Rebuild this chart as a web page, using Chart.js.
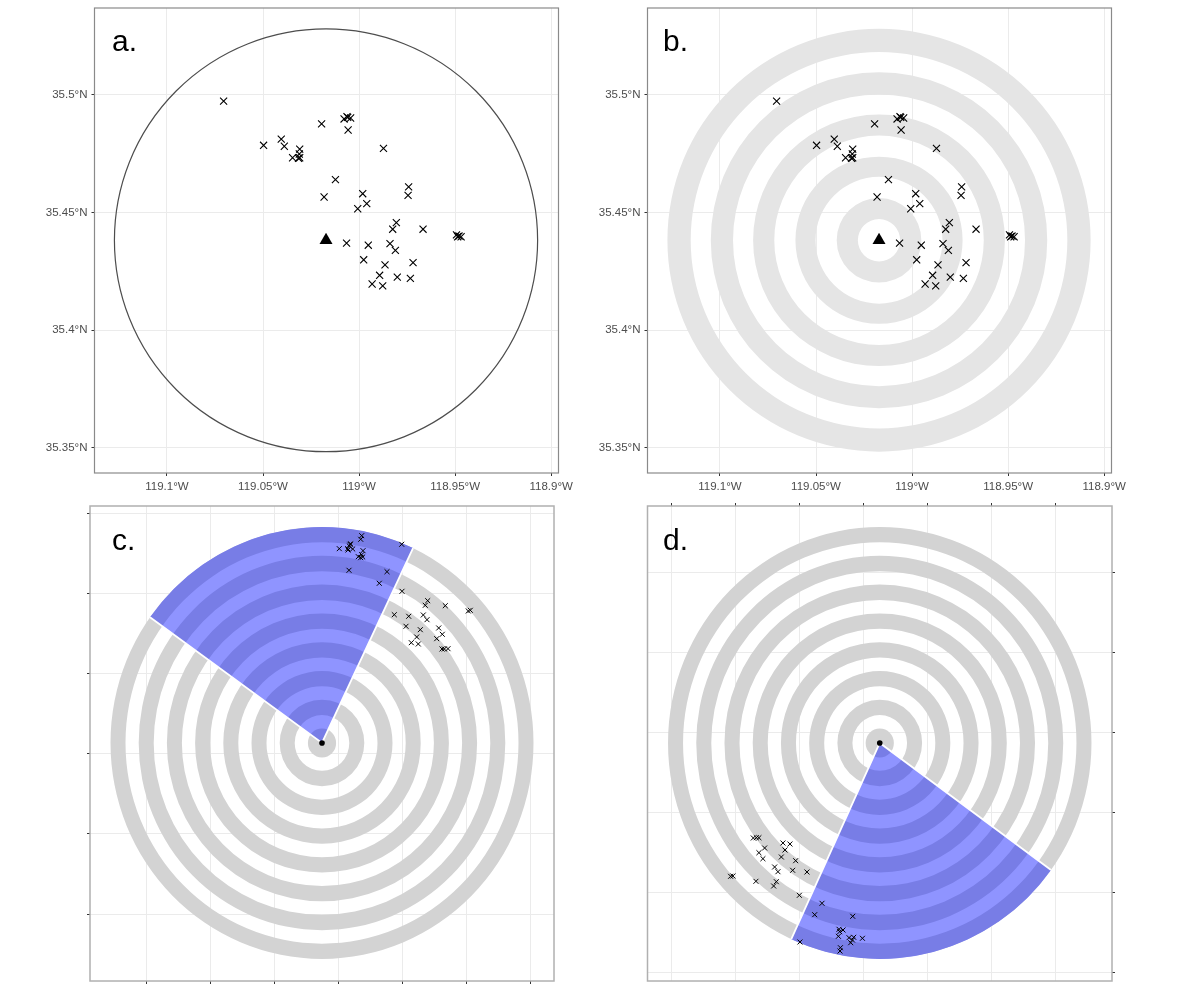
<!DOCTYPE html>
<html lang="en">

<head>
  <meta charset="UTF-8">
  <title>Site map panels</title>
  <script src="https://cdn.jsdelivr.net/npm/chart.js"></script>
  <style>
    body { margin: 0; background: #fff; overflow: hidden; }
    canvas { position: absolute; }
  </style>
</head>

<body>

  <canvas id="panelA" width="600" height="510" style="left:0;top:-10px"></canvas>
  <canvas id="panelB" width="600" height="510" style="left:553px;top:-10px"></canvas>
  <canvas id="panelC" width="600" height="510" style="left:0;top:490px"></canvas>
  <canvas id="panelD" width="600" height="510" style="left:553px;top:490px"></canvas>

  <script>
    // Panels a and b: stations in degrees
    const stationLon = [-119.0705, -119.0497, -119.0405, -119.0389, -119.0309, -119.0346, -119.0311, -119.0315, -119.0309,
      -119.0195, -119.0078, -119.0063, -119.0059, -119.0044, -119.0057, -118.9873, -119.0123, -119.0182, -118.9981,
      -118.9960, -119.0007, -118.9742, -118.9745, -118.9806, -118.9825, -118.9667, -118.9493, -118.9487, -118.9469,
      -118.9480, -119.0065, -118.9952, -118.9839, -118.9811, -118.9976, -118.9865, -118.9719, -118.9893, -118.9801,
      -118.9733, -118.9932, -118.9877];
    const stationLat = [35.4974, 35.4786, 35.4812, 35.4782, 35.4770, 35.4733, 35.4749, 35.4731, 35.4733,
      35.4877, 35.4898, 35.4908, 35.4905, 35.4902, 35.4851, 35.4773, 35.4640, 35.4566, 35.4580,
      35.4538, 35.4516, 35.4609, 35.4573, 35.4457, 35.4429, 35.4429, 35.4405, 35.4397, 35.4397,
      35.4400, 35.4370, 35.4361, 35.4368, 35.4339, 35.4299, 35.4277, 35.4287, 35.4233, 35.4225,
      35.4220, 35.4196, 35.4188];
    const siteLon = [-119.0172];
    const siteLat = [35.4382];

    const lonTicks = [-119.1, -119.05, -119, -118.95, -118.9];
    const lonLabels = ['119.1°W', '119.05°W', '119°W', '118.95°W', '118.9°W'];
    const latTicks = [35.5, 35.45, 35.4, 35.35];
    const latLabels = ['35.5°N', '35.45°N', '35.4°N', '35.35°N'];

    // ring edges in km, inner and outer
    const mapRingInner = [1, 3, 4.95, 6.9, 8.9];
    const mapRingOuter = [2, 3.95, 5.95, 7.95, 10];
    const boundaryKm = [10];

    // Panels c and d: stations in the unlabelled plot units, relative to the site
    const cEast = [39.7, 38.7, 17.3, 28, 28.7, 27.3, 25.7, 26, 30.7, 41, 36.3, 39.7, 40.7, 38.7, 79.7, 27, 65, 57.3, 80,
      105.7, 103.3, 123.3, 146.3, 148.3, 72.3, 86.7, 101.3, 105, 84, 98.3, 116.7, 120.3, 114.7, 94.7, 89.3, 96.3, 120, 122.3, 126];
    const cNorth = [207.3, 203.7, 194.3, 198.7, 199, 197, 194.3, 193, 194, 192.3, 186.3, 188.3, 186, 185.3, 198.7, 172.7, 171.3, 159.7, 151.7,
      142.3, 137.7, 137.3, 132, 132.7, 128.3, 126.7, 128, 123.3, 116.7, 113.3, 115, 108.7, 104.3, 106, 100.3, 99, 94, 94, 94.3];

    const dEast = [-126.3, -123.3, -120.7, -96.7, -89.7, -115, -94.7, -120.7, -98.3, -116.7, -84, -105, -101.7, -87, -72.7, -149, -146.7,
      -123.7, -103.3, -106, -80.3, -57.7, -65, -27, -40.7, -40, -36.7, -41.3, -30.7, -26, -17.3, -27.3, -29, -39.3, -39.7, -79.7];
    const dNorth = [-95, -94.7, -94.7, -100, -101, -105, -107, -109.7, -114, -115.7, -117.7, -124, -128.7, -127.3, -129, -133.3, -133,
      -138.3, -138.7, -143, -152.3, -160.3, -171.7, -173.3, -186.3, -188.7, -187, -193.3, -194.7, -194.3, -195.3, -197, -199.7, -204.7, -208, -199];

    const cXTicks = [-176, -112, -48, 16, 80.4, 144.6, 208.7];
    const cYTicks = [229, 149, 69, -11, -91, -171];
    const dXTicks = [-208.3, -144.3, -80.5, -16.5, 47.7, 111.7, 176];
    const dYTicks = [170.3, 90.3, 10.3, -69.7, -149.7, -229.7];

    const sectorRingInner = [196.5, 168.3, 140.1, 111.9, 83.7, 55.5, 27.3, 0];
    const sectorRingOuter = [211.5, 183.3, 155.1, 126.9, 98.7, 70.5, 42.3, 14.1];
    const cSector = [-54.4, 25.5];
    const dSector = [126, 204.7];

    const kmLon = 1 / 90.8, kmLat = 1 / 111.2;  // degrees per km
    const FONT = '"Liberation Sans", Arial, sans-serif';

    function ellipsePath(ctx, chart, cx, cy, r, ux, uy) {
      const px = chart.scales.x.getPixelForValue(cx), py = chart.scales.y.getPixelForValue(cy);
      const rx = Math.abs(chart.scales.x.getPixelForValue(cx + r * ux) - px);
      const ry = Math.abs(chart.scales.y.getPixelForValue(cy + r * uy) - py);
      ctx.moveTo(px + rx, py);
      ctx.ellipse(px, py, rx, ry, 0, 0, Math.PI * 2);
    }

    function fillRings(ctx, chart, g, color) {
      ctx.fillStyle = color;
      g.inner.forEach((inner, i) => {
        ctx.beginPath();
        ellipsePath(ctx, chart, g.cx, g.cy, g.outer[i], g.ux, g.uy);
        if (inner > 0) ellipsePath(ctx, chart, g.cx, g.cy, inner, g.ux, g.uy);
        ctx.fill('evenodd');
      });
    }

    // blue wedge over the rings, bearings clockwise from north
    function drawSector(ctx, chart, g, bearings) {
      const px = chart.scales.x.getPixelForValue(g.cx), py = chart.scales.y.getPixelForValue(g.cy);
      const r = Math.max(...g.outer);
      const rx = Math.abs(chart.scales.x.getPixelForValue(g.cx + r * g.ux) - px);
      const ry = Math.abs(chart.scales.y.getPixelForValue(g.cy + r * g.uy) - py);
      const a0 = (bearings[0] - 90) * Math.PI / 180, a1 = (bearings[1] - 90) * Math.PI / 180;

      ctx.save();
      ctx.beginPath();
      ctx.moveTo(px, py);
      ctx.ellipse(px, py, rx, ry, 0, a0, a1);
      ctx.closePath();
      ctx.clip();
      ctx.fillStyle = '#8f94ff';
      ctx.fillRect(chart.chartArea.left, chart.chartArea.top, chart.chartArea.width, chart.chartArea.height);
      fillRings(ctx, chart, g, '#787de6');
      ctx.restore();

      ctx.strokeStyle = '#fff';
      ctx.lineWidth = 1.8;
      ctx.beginPath();
      ctx.moveTo(px + rx * Math.cos(a0), py + ry * Math.sin(a0));
      ctx.lineTo(px, py);
      ctx.lineTo(px + rx * Math.cos(a1), py + ry * Math.sin(a1));
      ctx.stroke();
    }

    function makePanel(id, p) {
      const tickFor = (values, labels) => ({
        autoSkip: false,
        maxRotation: 0,
        padding: 4,
        color: '#4d4d4d',
        font: { family: FONT, size: 11.5 },
        callback: (v, i) => labels ? labels[i] : ''
      });
      const gridStyle = { color: '#ebebeb', lineWidth: 1, tickColor: '#333', tickLength: 3, tickWidth: 1 };

      new Chart(document.getElementById(id), {
        type: 'scatter',
        data: {
          datasets: [
            {
              data: p.xs.map((x, i) => ({ x: x, y: p.ys[i] })),
              pointStyle: 'crossRot',
              pointRadius: p.crossSize,
              borderColor: '#000',
              pointBorderWidth: p.crossWidth,
              backgroundColor: 'transparent'
            },
            {
              data: p.siteX.map((x, i) => ({ x: x, y: p.siteY[i] })),
              pointStyle: p.sitePoint,
              pointRadius: p.siteSize,
              backgroundColor: '#000',
              borderColor: '#000',
              pointBorderWidth: 0
            }
          ]
        },
        options: {
          responsive: false,
          animation: false,
          layout: { padding: p.padding },
          plugins: { legend: { display: false }, tooltip: { enabled: false } },
          scales: {
            x: {
              type: 'linear',
              position: p.xPos,
              min: p.xRange[0],
              max: p.xRange[1],
              grid: gridStyle,
              border: { display: false },
              ticks: tickFor(p.xTicks, p.xLabels),
              afterBuildTicks: s => { s.ticks = p.xTicks.map(v => ({ value: v })); },
              afterFit: s => { s.height = p.xSize; }
            },
            y: {
              type: 'linear',
              position: p.yPos,
              min: p.yRange[0],
              max: p.yRange[1],
              grid: gridStyle,
              border: { display: false },
              ticks: tickFor(p.yTicks, p.yLabels),
              afterBuildTicks: s => { s.ticks = p.yTicks.map(v => ({ value: v })); },
              afterFit: s => { s.width = p.ySize; }
            }
          }
        },
        plugins: [{
          id: 'panelMarks',
          beforeDatasetsDraw(chart) {
            const ctx = chart.ctx;
            ctx.save();
            p.draw(ctx, chart);
            ctx.restore();
          },
          afterDraw(chart) {
            const ctx = chart.ctx, a = chart.chartArea;
            ctx.save();
            ctx.strokeStyle = p.frameColor;
            ctx.lineWidth = p.frameWidth;
            ctx.strokeRect(a.left, a.top, a.width, a.height);
            ctx.fillStyle = '#000';
            ctx.font = '30px ' + FONT;
            ctx.fillText(p.tag, p.tagPos[0], p.tagPos[1]);
            ctx.restore();
          }
        }]
      });
    }

    const mapPanel = {
      xs: stationLon, ys: stationLat, siteX: siteLon, siteY: siteLat,
      crossSize: 5, crossWidth: 1.1, sitePoint: 'triangle', siteSize: 7.5,
      xPos: 'bottom', yPos: 'left', xSize: 27, ySize: 94.5,
      xRange: [-119.1377, -118.8962], yRange: [35.3392, 35.537],
      xTicks: lonTicks, xLabels: lonLabels, yTicks: latTicks, yLabels: latLabels,
      padding: { top: 18, right: 41.5, left: 0, bottom: 0 },
      frameColor: '#8a8a8a', frameWidth: 1.2
    };
    const mapGeom = { cx: siteLon[0], cy: siteLat[0], ux: kmLon, uy: kmLat };

    makePanel('panelA', Object.assign({}, mapPanel, {
      tag: 'a.', tagPos: [112, 60.5],
      draw(ctx, chart) {
        ctx.strokeStyle = '#4d4d4d';
        ctx.lineWidth = 1.2;
        ctx.beginPath();
        ellipsePath(ctx, chart, mapGeom.cx, mapGeom.cy, boundaryKm[0], mapGeom.ux, mapGeom.uy);
        ctx.stroke();
      }
    }));

    makePanel('panelB', Object.assign({}, mapPanel, {
      tag: 'b.', tagPos: [110, 60.5],
      draw(ctx, chart) {
        fillRings(ctx, chart, Object.assign({ inner: mapRingInner, outer: mapRingOuter }, mapGeom), '#e5e5e5');
      }
    }));

    const sectorGeom = { cx: 0, cy: 0, ux: 1, uy: 1, inner: sectorRingInner, outer: sectorRingOuter };
    const sectorPanel = {
      siteX: [0], siteY: [0],
      crossSize: 3.5, crossWidth: 1, sitePoint: 'circle', siteSize: 2.8,
      xRange: [-232, 232], yRange: [-233.1, 232.1],
      frameColor: '#b0b0b0', frameWidth: 1.5
    };
    // rings are drawn slightly taller than wide, as in the original map projection
    const stretchY = 1.021;

    makePanel('panelC', Object.assign({}, sectorPanel, {
      xs: cEast, ys: cNorth.map(v => v / stretchY),
      xPos: 'bottom', yPos: 'left', xSize: 19, ySize: 90,
      xTicks: cXTicks, xLabels: null, yTicks: cYTicks.map(v => v / stretchY), yLabels: null,
      padding: { top: 16, right: 46, left: 0, bottom: 0 },
      tag: 'c.', tagPos: [112, 60],
      draw(ctx, chart) {
        fillRings(ctx, chart, sectorGeom, '#d3d3d3');
        drawSector(ctx, chart, sectorGeom, cSector);
      }
    }));

    makePanel('panelD', Object.assign({}, sectorPanel, {
      xs: dEast, ys: dNorth.map(v => v / stretchY),
      xPos: 'top', yPos: 'right', xSize: 16, ySize: 41,
      xTicks: dXTicks, xLabels: null, yTicks: dYTicks.map(v => v / stretchY), yLabels: null,
      padding: { left: 94.5, bottom: 19, top: 0, right: 0 },
      tag: 'd.', tagPos: [110, 60],
      draw(ctx, chart) {
        fillRings(ctx, chart, sectorGeom, '#d3d3d3');
        drawSector(ctx, chart, sectorGeom, dSector);
      }
    }));
  </script>

</body>

</html>
